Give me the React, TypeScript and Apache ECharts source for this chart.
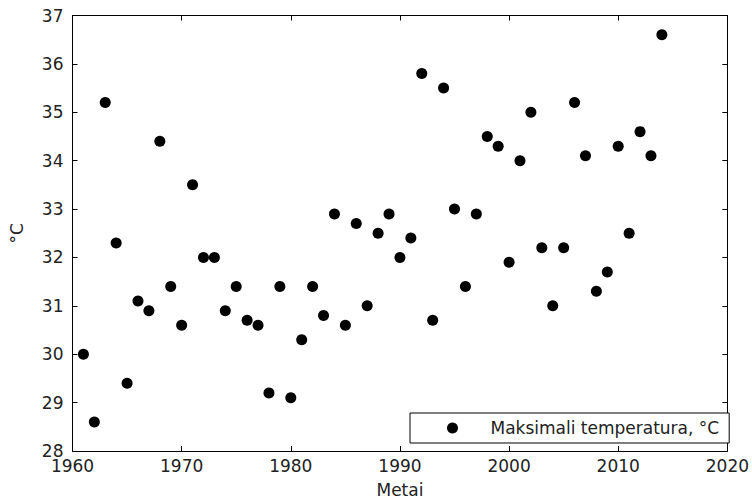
import React, { useEffect, useRef } from "react";
import * as echarts from "echarts";

const years: number[] = [
  1961, 1962, 1963, 1964, 1965, 1966, 1967, 1968, 1969, 1970,
  1971, 1972, 1973, 1974, 1975, 1976, 1977, 1978, 1979, 1980,
  1981, 1982, 1983, 1984, 1985, 1986, 1987, 1988, 1989, 1990,
  1991, 1992, 1993, 1994, 1995, 1996, 1997, 1998, 1999, 2000,
  2001, 2002, 2003, 2004, 2005, 2006, 2007, 2008, 2009, 2010,
  2011, 2012, 2013, 2014,
];

const maxTemps: number[] = [
  30.0, 28.6, 35.2, 32.3, 29.4, 31.1, 30.9, 34.4, 31.4, 30.6,
  33.5, 32.0, 32.0, 30.9, 31.4, 30.7, 30.6, 29.2, 31.4, 29.1,
  30.3, 31.4, 30.8, 32.9, 30.6, 32.7, 31.0, 32.5, 32.9, 32.0,
  32.4, 35.8, 30.7, 35.5, 33.0, 31.4, 32.9, 34.5, 34.3, 31.9,
  34.0, 35.0, 32.2, 31.0, 32.2, 35.2, 34.1, 31.3, 31.7, 34.3,
  32.5, 34.6, 34.1, 36.6,
];

const seriesName = "Maksimali temperatura, °C";
const xAxisTitle = "Metai";
const yAxisTitle = "°C";

const FONT = "DejaVu Sans";

export default function App() {
  const ref = useRef<HTMLDivElement>(null);

  useEffect(() => {
    if (!ref.current) return;
    const chart = echarts.init(ref.current, undefined, { renderer: "svg" });
    const axisLine = { show: true, lineStyle: { color: "#000", width: 1 } };
    const axisTick = { show: true, inside: true, length: 5, lineStyle: { color: "#000", width: 1 } };
    const labelStyle = { color: "#222", fontFamily: FONT, fontSize: 17 };
    chart.setOption({
      animation: false,
      backgroundColor: "#fff",
      grid: { left: 72.5, right: 20, top: 15.5, bottom: 42.5, containLabel: false },
      legend: {
        data: [seriesName],
        left: 410,
        top: 413,
        orient: "horizontal",
        borderColor: "#000",
        borderWidth: 1,
        backgroundColor: "#fff",
        padding: [6, 10, 6, 37],
        itemWidth: 66,
        itemHeight: 11,
        itemGap: 0,
        textStyle: { color: "#222", fontFamily: FONT, fontSize: 17, lineHeight: 18 },
      },
      xAxis: [
        {
          type: "value",
          min: 1960,
          max: 2020,
          interval: 10,
          name: xAxisTitle,
          nameLocation: "middle",
          nameGap: 30,
          nameTextStyle: { color: "#222", fontFamily: FONT, fontSize: 17 },
          axisLine,
          axisTick,
          axisLabel: { ...labelStyle, margin: 6, formatter: (v: number) => String(v) },
          splitLine: { show: false },
        },
        {
          type: "value",
          position: "top",
          min: 1960,
          max: 2020,
          interval: 10,
          axisLine,
          axisTick,
          axisLabel: { show: false },
          splitLine: { show: false },
        },
      ],
      yAxis: [
        {
          type: "value",
          min: 28,
          max: 37,
          interval: 1,
          name: yAxisTitle,
          nameLocation: "middle",
          nameGap: 47,
          nameTextStyle: { color: "#222", fontFamily: FONT, fontSize: 17 },
          axisLine,
          axisTick,
          axisLabel: { ...labelStyle, margin: 9 },
          splitLine: { show: false },
        },
        {
          type: "value",
          position: "right",
          min: 28,
          max: 37,
          interval: 1,
          axisLine,
          axisTick,
          axisLabel: { show: false },
          splitLine: { show: false },
        },
      ],
      series: [
        {
          name: seriesName,
          type: "scatter",
          xAxisIndex: 0,
          yAxisIndex: 0,
          symbol: "circle",
          symbolSize: 11,
          itemStyle: { color: "#000", opacity: 1 },
          data: years.map((y, i) => [y, maxTemps[i]]),
        },
      ],
    });
    return () => chart.dispose();
  }, []);

  return (
    <div
      ref={ref}
      style={{ position: "fixed", left: 0, top: 0, width: 752, height: 503, background: "#fff" }}
    />
  );
}
